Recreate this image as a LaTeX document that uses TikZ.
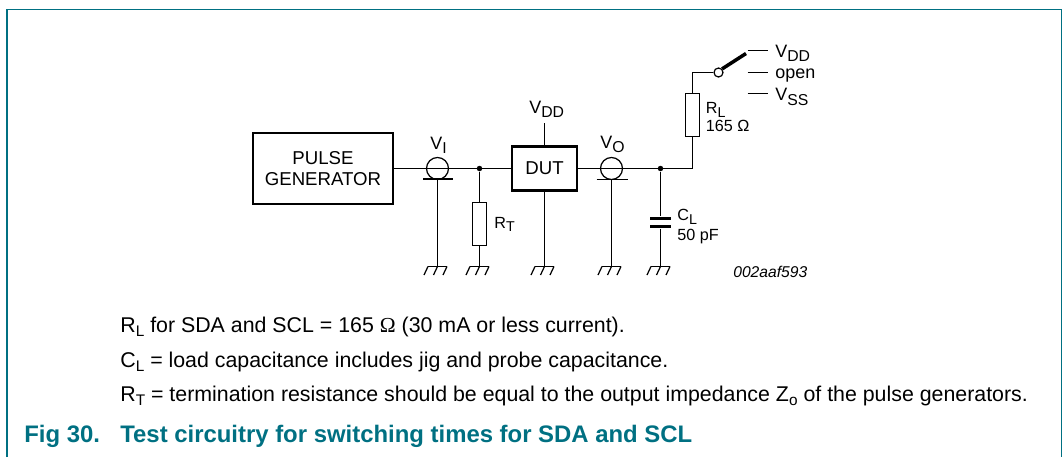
\documentclass[tikz,border=0pt]{standalone}
\usepackage{fontspec}
\setmainfont{Liberation Sans}
\newfontfamily\omegafont{Liberation Serif}
\usetikzlibrary{positioning}
\definecolor{figteal}{RGB}{0,112,130}
\newcommand{\subs}[1]{\raisebox{-0.45ex}{\scalebox{0.88}{#1}}}
\newcommand{\notesub}[1]{\raisebox{-0.4ex}{\scalebox{0.72}{#1}}}
\tikzset{
	wire/.style={line width=0.7pt},
	block/.style={draw, line width=1.4pt, align=center, font=\fontsize{10.6}{12.3}\selectfont},
	resistor/.style={draw, line width=0.7pt, minimum width=0.27cm, inner sep=0pt},
	plate/.style={fill=black, minimum width=0.42cm, minimum height=0.07cm, inner sep=0pt},
	dot/.style={circle, fill=black, minimum size=0.11cm, inner sep=0pt},
	probe/.style={circle, draw, line width=0.7pt, minimum size=0.44cm, inner sep=0pt},
	contact/.style={circle, draw, line width=0.7pt, minimum size=0.18cm, inner sep=0pt},
	biglabel/.style={anchor=base west, inner sep=0pt, font=\fontsize{10.2}{12}\selectfont},
	smalllabel/.style={anchor=base west, inner sep=0pt, font=\fontsize{9.2}{10}\selectfont},
	bodytext/.style={anchor=base west, inner sep=0pt, font=\fontsize{12.15}{14}\selectfont},
	captext/.style={anchor=base west, inner sep=0pt, text=figteal, font=\fontsize{13.6}{16}\selectfont\bfseries},
	ground/.pic={
		\draw[wire] (-0.19,0) -- (0.19,0);
		\foreach \x in {-0.19,0,0.19}
			\draw[wire] (\x,0) -- (\x-0.08,-0.17);
	}
}
\begin{document}
\begin{tikzpicture}
	\useasboundingbox (0,0) rectangle (21.26,9.14);
	
	% frame, open at the bottom
	\draw[figteal, line width=0.7pt] (0.14,0) -- (0.14,8.95) -- (21.23,8.95) -- (21.23,0);
	
	% blocks
	\node[block, minimum width=2.8cm, minimum height=1.42cm] (pulse) at (6.46,5.77) {PULSE\\GENERATOR};
	\node[block, minimum width=1.31cm, minimum height=0.88cm] (dut) at (10.89,5.77) {DUT};
	
	% probes and junctions
	\node[probe] (vi) at (8.75,5.77) {};
	\node[probe] (vo) at (12.23,5.77) {};
	\node[dot] (jt) at (9.59,5.77) {};
	\node[dot] (jl) at (13.21,5.77) {};
	\coordinate (vibar) at (8.75,5.56);
	\coordinate (vobar) at (12.23,5.55);
	\coordinate (vileft) at (8.46,5.56);
	\coordinate (viright) at (9.05,5.56);
	\coordinate (voleft) at (11.93,5.55);
	\coordinate (voright) at (12.55,5.55);
	
	% resistors and capacitor
	\node[resistor, minimum height=0.85cm] (rt) at (9.59,4.66) {};
	\node[resistor, minimum height=0.87cm] (rl) at (13.85,6.84) {};
	\node[plate] (ctop) at (13.21,4.77) {};
	\node[plate] (cbot) at (13.21,4.61) {};
	
	% ground points
	\coordinate (gi) at (8.75,3.81);
	\coordinate (gt) at (9.59,3.81);
	\coordinate (gd) at (10.89,3.81);
	\coordinate (go) at (12.23,3.81);
	\coordinate (gl) at (13.21,3.81);
	\foreach \g in {gi,gt,gd,go,gl}
		\pic at (\g) {ground};
	
	% main line
	\draw[wire] (pulse.east) -- (dut.west);
	\draw[wire] (dut.east) -- (jl.center) -| (rl.south);
	\draw[wire] (vileft) -- (viright);
	\draw[wire] (voleft) -- (voright);
	\draw[wire] (vibar) -- (gi);
	\draw[wire] (vobar) -- (go);
	\draw[wire] (jt) -- (rt.north);
	\draw[wire] (rt.south) -- (gt);
	\draw[wire] (dut.south) -- (gd);
	\draw[wire] (jl) -- (ctop);
	\draw[wire] (cbot) -- (gl);
	
	% supply stem
	\coordinate (stem) at (10.89,6.68);
	\draw[wire] (dut.north) -- (stem);
	
	% switch
	\node[contact] (sw) at (14.37,7.69) {};
	\coordinate (armend) at (14.92,8.07);
	\coordinate (cdd) at (14.95,8.13);
	\coordinate (copen) at (14.95,7.69);
	\coordinate (css) at (14.95,7.27);
	\draw[wire] (rl.north) |- (sw.west);
	\draw[line width=2pt] (sw.north east) -- (armend);
	\draw[wire] (cdd) -- ++(0.41,0);
	\draw[wire] (copen) -- ++(0.41,0);
	\draw[wire] (css) -- ++(0.41,0);
	
	% labels
	\node[biglabel] (lvdd) at (15.5,8.0) {V\subs{DD}};
	\node[biglabel] (lopen) at (15.5,7.58) {open};
	\node[biglabel] (lvss) at (15.5,7.125) {V\subs{SS}};
	\node[biglabel] (ldut) at (10.58,6.87) {V\subs{DD}};
	\node[biglabel] (lvi) at (8.6,6.16) {V\subs{I}};
	\node[biglabel] (lvo) at (12.0,6.17) {V\subs{O}};
	\node[smalllabel] (lrt) at (9.88,4.58) {R\subs{T}};
	\node[smalllabel] (lrl) at (14.11,6.87) {R\subs{L}};
	\node[smalllabel] (lrlv) at (14.11,6.51) {165 Ω};
	\node[smalllabel] (lcl) at (13.54,4.73) {C\subs{L}};
	\node[smalllabel] (lclv) at (13.54,4.34) {50 pF};
	\node[anchor=base west, inner sep=0pt, font=\fontsize{8.9}{11}\selectfont\itshape] (code) at (14.66,3.59) {002aaf593};
	
	% notes
	\node[bodytext] (note1) at (2.4,2.5) {R\notesub{L} for SDA and SCL = 165 {\omegafont Ω} (30 mA or less current).};
	\node[bodytext] (note2) at (2.4,1.8) {C\notesub{L} = load capacitance includes jig and probe capacitance.};
	\node[bodytext] (note3) at (2.4,1.12) {R\notesub{T} = termination resistance should be equal to the output impedance Z\notesub{o} of the pulse generators.};
	
	% caption
	\node[captext] (figno) at (0.48,0.29) {Fig 30.};
	\node[captext] (figtitle) at (2.4,0.29) {Test circuitry for switching times for SDA and SCL};
\end{tikzpicture}
\end{document}
